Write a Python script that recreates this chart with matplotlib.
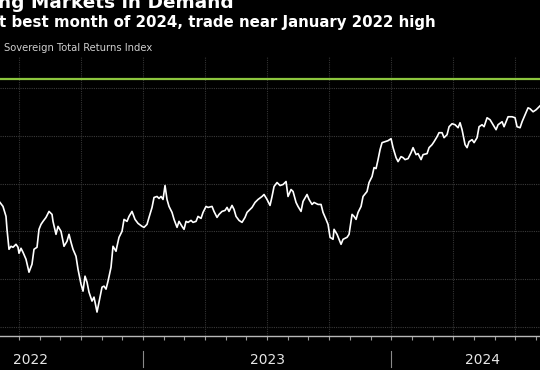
import matplotlib
matplotlib.use("Agg")
from matplotlib import pyplot as plt

# fractional year of each reading
years = [
    2022.4230, 2022.4351, 2022.4472, 2022.4512, 2022.4593, 2022.4674, 2022.4754, 2022.4875,
    2022.4956, 2022.4996, 2022.5077, 2022.5157, 2022.5278, 2022.5399, 2022.5520, 2022.5601,
    2022.5722, 2022.5802, 2022.5883, 2022.5964, 2022.6085, 2022.6206, 2022.6327, 2022.6367,
    2022.6488, 2022.6569, 2022.6690, 2022.6810, 2022.6931, 2022.7012, 2022.7093, 2022.7173,
    2022.7294, 2022.7375, 2022.7496, 2022.7577, 2022.7657, 2022.7738, 2022.7818, 2022.7939,
    2022.8020, 2022.8141, 2022.8222, 2022.8343, 2022.8423, 2022.8504, 2022.8585, 2022.8706,
    2022.8786, 2022.8907, 2022.8947, 2022.9028, 2022.9149, 2022.9230, 2022.9351, 2022.9431,
    2022.9552, 2022.9673, 2022.9794, 2022.9955, 2023.0036, 2023.0157, 2023.0238, 2023.0359,
    2023.0439, 2023.0560, 2023.0641, 2023.0722, 2023.0802, 2023.0883, 2023.0963, 2023.1044,
    2023.1165, 2023.1246, 2023.1367, 2023.1447, 2023.1568, 2023.1649, 2023.1730, 2023.1810,
    2023.1931, 2023.2012, 2023.2133, 2023.2213, 2023.2334, 2023.2415, 2023.2536, 2023.2617,
    2023.2778, 2023.2858, 2023.2979, 2023.3060, 2023.3181, 2023.3302, 2023.3383, 2023.3463,
    2023.3584, 2023.3665, 2023.3746, 2023.3866, 2023.3987, 2023.4108, 2023.4189, 2023.4310,
    2023.4391, 2023.4512, 2023.4633, 2023.4794, 2023.4874, 2023.4995, 2023.5116, 2023.5197,
    2023.5278, 2023.5399, 2023.5520, 2023.5641, 2023.5762, 2023.5842, 2023.5963, 2023.6044,
    2023.6165, 2023.6245, 2023.6366, 2023.6447, 2023.6608, 2023.6689, 2023.6810, 2023.6890,
    2023.7052, 2023.7173, 2023.7253, 2023.7374, 2023.7455, 2023.7536, 2023.7657, 2023.7697,
    2023.7818, 2023.7898, 2023.7979, 2023.8060, 2023.8221, 2023.8302, 2023.8423, 2023.8503,
    2023.8584, 2023.8665, 2023.8786, 2023.8866, 2023.9027, 2023.9108, 2023.9229, 2023.9310,
    2023.9390, 2023.9471, 2023.9552, 2023.9632, 2023.9753, 2023.9874, 2023.9995, 2024.0076,
    2024.0197, 2024.0277, 2024.0398, 2024.0479, 2024.0560, 2024.0681, 2024.0802, 2024.0882,
    2024.1003, 2024.1084, 2024.1205, 2024.1285, 2024.1447, 2024.1527, 2024.1648, 2024.1729,
    2024.1850, 2024.1930, 2024.2051, 2024.2132, 2024.2253, 2024.2334, 2024.2455, 2024.2576,
    2024.2697, 2024.2777, 2024.2858, 2024.2979, 2024.3059, 2024.3140, 2024.3261, 2024.3342,
    2024.3463, 2024.3543, 2024.3664, 2024.3745, 2024.3866, 2024.3987, 2024.4108, 2024.4229,
    2024.4309, 2024.4471, 2024.4551, 2024.4713, 2024.4874, 2024.4995, 2024.5075, 2024.5196,
    2024.5277, 2024.5398, 2024.5519, 2024.5600, 2024.5721, 2024.5842, 2024.5922, 2024.6003,
]

# index level (axis labels are cropped out, units are relative)
index_level = [
    1062.5, 1060.5, 1055.5, 1049.0, 1039.0, 1040.5, 1040.0, 1041.5,
    1040.0, 1037.0, 1039.5, 1037.5, 1034.0, 1027.5, 1031.5, 1039.0,
    1040.0, 1049.0, 1051.5, 1053.0, 1055.0, 1058.0, 1056.5, 1053.0,
    1046.5, 1050.5, 1048.0, 1040.5, 1043.0, 1046.5, 1042.5, 1039.0,
    1035.5, 1029.0, 1021.5, 1018.0, 1025.5, 1022.5, 1017.5, 1013.0,
    1015.0, 1007.5, 1012.5, 1020.0, 1020.5, 1019.0, 1023.0, 1030.0,
    1040.5, 1038.0, 1040.5, 1045.0, 1048.0, 1054.0, 1053.0, 1055.5,
    1058.0, 1054.0, 1052.0, 1050.5, 1050.0, 1051.5, 1055.0, 1060.0,
    1065.0, 1065.5, 1064.5, 1065.5, 1064.0, 1071.0, 1064.0, 1060.5,
    1057.5, 1054.0, 1050.0, 1053.0, 1050.5, 1049.0, 1053.0, 1052.5,
    1053.5, 1052.5, 1053.0, 1055.5, 1054.5, 1057.5, 1060.5, 1060.0,
    1060.5, 1058.0, 1055.0, 1056.5, 1058.0, 1058.5, 1060.0, 1058.0,
    1061.0, 1059.0, 1055.5, 1053.5, 1052.5, 1055.0, 1057.5, 1059.0,
    1060.0, 1062.5, 1064.0, 1065.5, 1066.5, 1064.0, 1061.0, 1065.5,
    1070.5, 1072.5, 1071.0, 1071.5, 1073.0, 1065.5, 1069.0, 1068.0,
    1062.5, 1060.5, 1058.0, 1063.0, 1066.5, 1064.0, 1061.5, 1062.5,
    1061.5, 1061.5, 1057.5, 1054.0, 1051.5, 1045.0, 1044.0, 1049.0,
    1046.5, 1044.0, 1041.5, 1044.0, 1045.0, 1046.5, 1056.5, 1055.5,
    1054.0, 1057.5, 1060.5, 1065.5, 1068.0, 1072.5, 1075.5, 1080.0,
    1079.5, 1084.0, 1089.0, 1092.5, 1093.0, 1093.5, 1094.5, 1090.0,
    1085.0, 1083.0, 1085.5, 1085.0, 1084.0, 1084.5, 1087.5, 1090.0,
    1086.5, 1087.0, 1084.0, 1086.5, 1087.0, 1090.0, 1091.5, 1093.0,
    1095.5, 1097.5, 1097.5, 1095.0, 1096.5, 1100.5, 1102.0, 1101.5,
    1100.0, 1102.5, 1099.0, 1091.5, 1090.0, 1093.0, 1094.0, 1092.5,
    1095.0, 1100.5, 1101.5, 1100.5, 1105.0, 1104.0, 1101.5, 1099.0,
    1101.5, 1103.0, 1100.5, 1105.5, 1105.5, 1105.0, 1100.5, 1100.0,
    1103.0, 1106.5, 1110.0, 1109.5, 1108.0, 1109.0, 1110.0, 1111.0,
]

jan_2022_high = 1124.5
grid_levels = [1000, 1024, 1048, 1072, 1096, 1120]
quarter_lines = [2022.5, 2022.75, 2023.0, 2023.25, 2023.5, 2023.75, 2024.0, 2024.25, 2024.5]
month_ticks = [2022 + m / 12 for m in range(6, 32)]
year_labels = ["2022", "2023", "2024"]
year_label_pos = [2022.545, 2023.5, 2024.37]
year_breaks = [2023.0, 2024.0]

plt.rcParams["font.family"] = "DejaVu Sans"

fig = plt.figure(figsize=(5.4, 3.7), dpi=100, facecolor="black")
ax = fig.add_axes([0, 0.092, 1, 0.754], facecolor="black")

for lv in grid_levels:
    ax.axhline(lv, color="#3a3a3a", lw=0.8, ls=(0, (1, 1)), zorder=1)
for q in quarter_lines:
    ax.axvline(q, color="#333333", lw=0.8, ls=(0, (1, 1)), zorder=1)

ax.axhline(jan_2022_high, color="#8cc63e", lw=1.6, zorder=2)
ax.plot(years, index_level, color="white", lw=1.2, zorder=3)

ax.set_xlim(2022.423, 2024.600)
ax.set_ylim(995.5, 1135.5)

for side in ["top", "left", "right"]:
    ax.spines[side].set_visible(False)
ax.spines["bottom"].set_color("#b8b8b8")
ax.spines["bottom"].set_linewidth(1.0)

ax.set_yticks([])
ax.set_xticks(month_ticks)
ax.set_xticklabels([])
ax.tick_params(axis="x", colors="#9a9a9a", length=3, width=0.8)

for lab, pos in zip(year_labels, year_label_pos):
    ax.text(pos, -0.085, lab, transform=ax.get_xaxis_transform(), color="#e6e6e6",
            fontsize=10, ha="center", va="center")
for b in year_breaks:
    ax.plot([b, b], [-0.055, -0.11], transform=ax.get_xaxis_transform(),
            color="#8a8a8a", lw=0.8, clip_on=False)

# title and subtitle are cropped at the left/top edge in the reference
fig.text(-0.004, 1 - 7.6 / 370, "ng Markets in Demand", color="white", fontsize=13.3,
         fontweight="bold", ha="left", va="baseline")
fig.text(-0.002, 1 - 27.5 / 370, "t best month of 2024, trade near January 2022 high",
         color="white", fontsize=10.85, fontweight="bold", ha="left", va="baseline")
fig.text(0.007, 1 - 51 / 370, "Sovereign Total Returns Index", color="#cfcfcf",
         fontsize=7.2, ha="left", va="baseline")

fig.savefig("out.png", dpi=100, facecolor="black")
